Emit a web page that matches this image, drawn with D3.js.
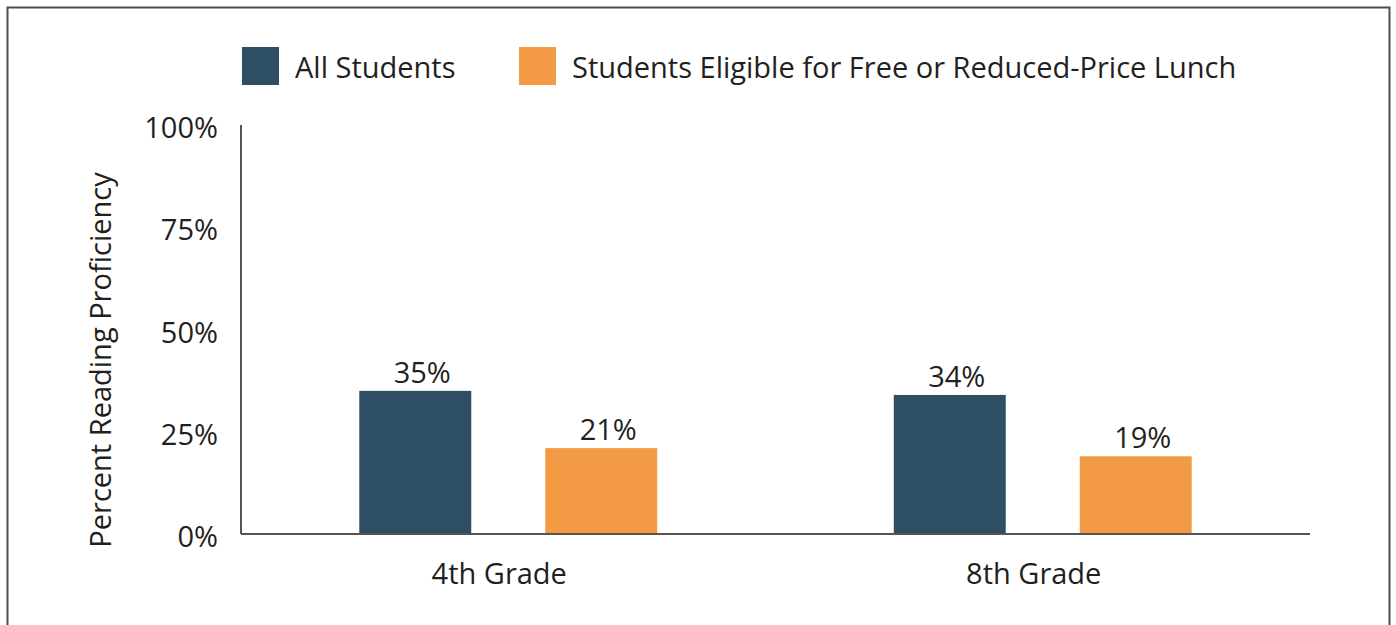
<!DOCTYPE html>
<html>
<head>
<meta charset="utf-8">
<script src="https://cdn.jsdelivr.net/npm/d3@7"></script>
<style>
  body { margin: 0; background: #fff; }
  text { font-family: "Open Sans", sans-serif; fill: #231f20; }
</style>
</head>
<body>
<script>
// data
var grades = ["4th Grade", "8th Grade"];
var seriesNames = ["All Students", "Students Eligible for Free or Reduced-Price Lunch"];
var allStudents = [35, 34];
var lunchStudents = [21, 19];
var yTicks = [0, 25, 50, 75, 100];

var colors = ["#2e4f63", "#f39a45"];
var fontSize = 29;

var width = 1396, height = 625;
var margin = {top: 125, right: 86, bottom: 91, left: 241};

var svg = d3.select("body")
  .append("svg")
  .attr("width", width)
  .attr("height", height);

// outer frame
svg.append("rect")
  .attr("x", 7.5).attr("y", 7.5)
  .attr("width", 1382).attr("height", 640)
  .attr("fill", "none")
  .attr("stroke", "#4d4d4d")
  .attr("stroke-width", 2);

var rows = grades.map(function(g, i) {
  return {grade: g, values: [allStudents[i], lunchStudents[i]]};
});

var x0 = d3.scaleBand()
  .domain(grades)
  .range([margin.left, width - margin.right])
  .padding(0);

var x1 = d3.scaleBand()
  .domain(d3.range(seriesNames.length))
  .range([0, x0.bandwidth()])
  .paddingInner(0.398)
  .paddingOuter(0.636);

var y = d3.scaleLinear()
  .domain([0, 100])
  .range([height - margin.bottom, margin.top]);

// y tick labels
svg.append("g")
  .selectAll("text")
  .data(yTicks)
  .enter()
  .append("text")
  .attr("x", margin.left - 23)
  .attr("y", function(d) { return y(d) + 3; })
  .attr("dy", "0.35em")
  .attr("text-anchor", "end")
  .attr("font-size", fontSize)
  .text(function(d) { return d + "%"; });

// y title
svg.append("text")
  .attr("transform", "translate(111," + 360 + ") rotate(-90)")
  .attr("text-anchor", "middle")
  .attr("font-size", fontSize)
  .text("Percent Reading Proficiency");

// bars
var groups = svg.append("g")
  .selectAll("g")
  .data(rows)
  .enter()
  .append("g")
  .attr("transform", function(d) { return "translate(" + x0(d.grade) + ",0)"; });

groups.selectAll("rect")
  .data(function(d) { return d.values; })
  .enter()
  .append("rect")
  .attr("x", function(d, i) { return x1(i); })
  .attr("y", function(d) { return y(d); })
  .attr("width", x1.bandwidth())
  .attr("height", function(d) { return y(0) - y(d); })
  .attr("fill", function(d, i) { return colors[i]; });

groups.selectAll("text.val")
  .data(function(d) { return d.values; })
  .enter()
  .append("text")
  .attr("class", "val")
  .attr("x", function(d, i) { return x1(i) + x1.bandwidth() / 2 + 7; })
  .attr("y", function(d) { return y(d) - 8; })
  .attr("text-anchor", "middle")
  .attr("font-size", fontSize)
  .text(function(d) { return d + "%"; });

// axes lines
svg.append("line")
  .attr("x1", margin.left).attr("x2", margin.left)
  .attr("y1", y(100)).attr("y2", y(0))
  .attr("stroke", "#555").attr("stroke-width", 2);

svg.append("line")
  .attr("x1", margin.left).attr("x2", width - margin.right)
  .attr("y1", y(0)).attr("y2", y(0))
  .attr("stroke", "#555").attr("stroke-width", 2);

// category labels
svg.append("g")
  .selectAll("text")
  .data(grades)
  .enter()
  .append("text")
  .attr("x", function(d) { return x0(d) + x0.bandwidth() / 2 - 9; })
  .attr("y", 584)
  .attr("text-anchor", "middle")
  .attr("font-size", fontSize)
  .text(function(d) { return d; });

// legend
var legendX = [242, 519];
var legend = svg.append("g")
  .selectAll("g")
  .data(seriesNames)
  .enter()
  .append("g")
  .attr("transform", function(d, i) { return "translate(" + legendX[i] + ",47)"; });

legend.append("rect")
  .attr("width", 37).attr("height", 38)
  .attr("fill", function(d, i) { return colors[i]; });

legend.append("text")
  .attr("x", 53)
  .attr("y", 31)
  .attr("font-size", fontSize)
  .text(function(d) { return d; });
</script>
</body>
</html>
